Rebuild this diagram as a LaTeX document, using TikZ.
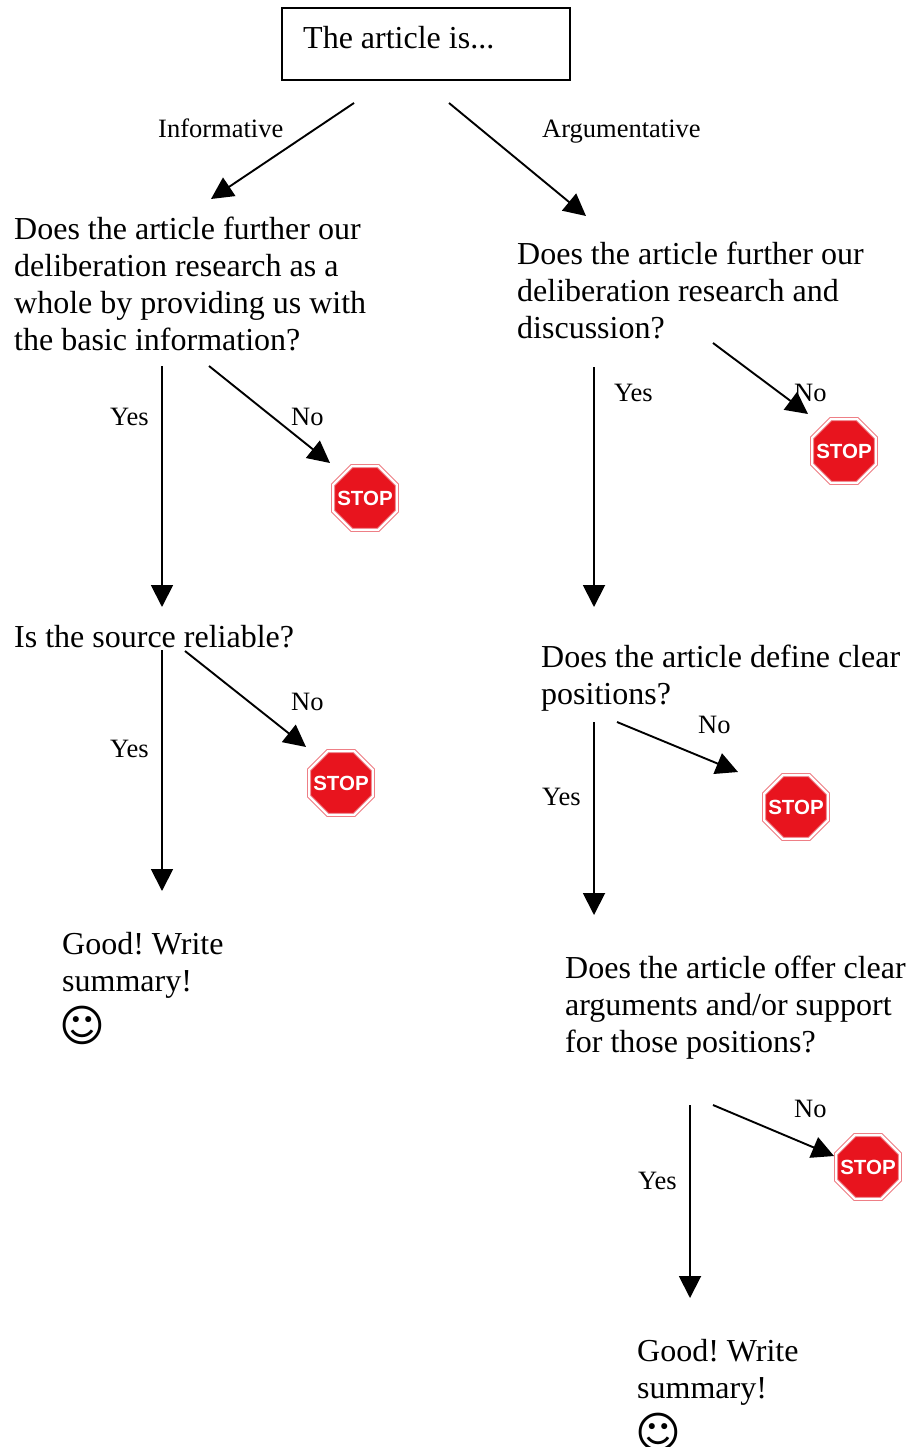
\documentclass[tikz,border=0pt]{standalone}
\usepackage{fontspec}
\setmainfont{Liberation Serif}
\newfontfamily\stopfont{Liberation Sans}
\newfontfamily\smilefont{DejaVu Sans}
\usetikzlibrary{arrows.meta,shapes.geometric}
\definecolor{stopred}{HTML}{E8141E}
\definecolor{stopedge}{HTML}{EE7F86}
\frenchspacing
\tikzset{
  x=1pt,y=-1pt,
  conn/.style={line width=1.9pt,-{Triangle[length=22pt,width=22pt]}},
  para/.style={anchor=north west,inner sep=0pt,align=left,font=\fontsize{32}{37}\selectfont},
  lab/.style={anchor=base west,inner sep=0pt,font=\fontsize{26.5}{30}\selectfont},
  stopsign/.style={regular polygon,regular polygon sides=8,minimum size=69pt,inner sep=0pt,
    draw=stopedge,line width=1pt,double=white,double distance=2.2pt,fill=stopred,text=white,font=\stopfont\bfseries\fontsize{20.5}{21}\selectfont},
  smile/.style={anchor=north west,inner sep=0pt,font=\smilefont\fontsize{44}{44}\selectfont}
}
\newcommand{\stoptext}{\makebox[0pt]{STOP}}
\begin{document}
\begin{tikzpicture}
\useasboundingbox (0,0) rectangle (910,1447);
\node[draw=black,line width=1.4pt,minimum width=288pt,minimum height=72pt,inner sep=0pt] (top) at (426,44) {};
\node[para] (ttl) at (303,26) {The article is...};

\node[para] (q1) at (14,217) {Does the article further our\\deliberation research as a\\whole by providing us with\\the basic information?};
\node[para] (q2) at (14,625) {Is the source reliable?};
\node[para] (g1) at (62,932) {Good! Write\\summary!};
\node[smile] (s1) at (59,1006) {☺};

\node[para] (a1) at (517,242) {Does the article further our\\deliberation research and\\discussion?};
\node[para] (a2) at (541,645) {Does the article define clear\\positions?};
\node[para] (a3) at (565,956) {Does the article offer clear\\arguments and/or support\\for those positions?};
\node[para] (g2) at (637,1339) {Good! Write\\summary!};
\node[smile] (s2) at (635,1413) {☺};

\node[stopsign] (st1) at (365,498) {\stoptext};
\node[stopsign] (st2) at (844,451) {\stoptext};
\node[stopsign] (st3) at (341,783) {\stoptext};
\node[stopsign] (st4) at (796,807) {\stoptext};
\node[stopsign] (st5) at (868,1167) {\stoptext};

\node[lab] (l1) at (158,138) {Informative};
\node[lab] (l2) at (542,138) {Argumentative};
\node[lab] (l3) at (110,425) {Yes};
\node[lab] (l4) at (291,425) {No};
\node[lab] (l5) at (614,401) {Yes};
\node[lab] (l6) at (794,401) {No};
\node[lab] (l7) at (110,757) {Yes};
\node[lab] (l8) at (291,710) {No};
\node[lab] (l9) at (542,805) {Yes};
\node[lab] (l10) at (698,733) {No};
\node[lab] (l11) at (638,1189) {Yes};
\node[lab] (l12) at (794,1117) {No};

\coordinate (c1a) at (354,103); \coordinate (c1b) at (211,199);
\coordinate (c2a) at (449,103); \coordinate (c2b) at (586,216);
\coordinate (c3a) at (162,366); \coordinate (c3b) at (162,607);
\coordinate (c4a) at (209,366); \coordinate (c4b) at (330,463);
\coordinate (c5a) at (594,367); \coordinate (c5b) at (594,607);
\coordinate (c6a) at (713,343); \coordinate (c6b) at (808,414);
\coordinate (c7a) at (162,650); \coordinate (c7b) at (162,891);
\coordinate (c8a) at (185,651); \coordinate (c8b) at (306,747);
\coordinate (c9a) at (594,722); \coordinate (c9b) at (594,915);
\coordinate (c10a) at (617,722); \coordinate (c10b) at (738,772);
\coordinate (c11a) at (690,1105); \coordinate (c11b) at (690,1298);
\coordinate (c12a) at (713,1105); \coordinate (c12b) at (834,1156);
\foreach \n in {1,...,12} \draw[conn] (c\n a) -- (c\n b);
\end{tikzpicture}
\end{document}
